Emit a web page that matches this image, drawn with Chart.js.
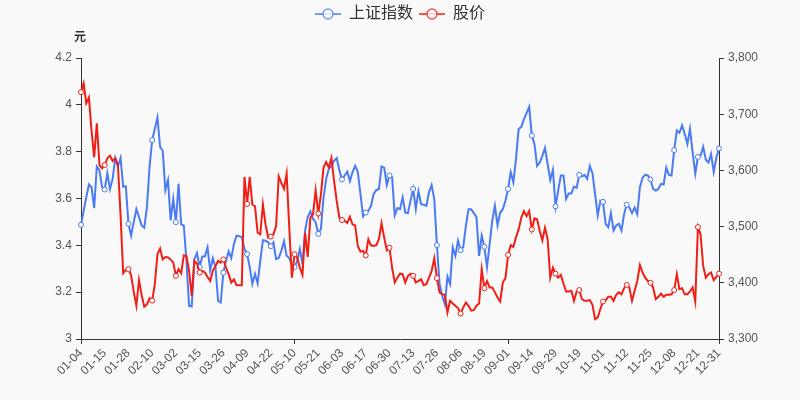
<!DOCTYPE html>
<html><head><meta charset="utf-8">
<script src="https://cdn.jsdelivr.net/npm/chart.js@4.4.1/dist/chart.umd.min.js"></script>
<style>html,body{margin:0;padding:0;background:#f9f9f9;}#wrap{width:800px;height:400px;}</style>
</head><body><div id="wrap"><canvas id="c" width="800" height="400"></canvas></div>
<script>
const dates = [
"01-04","01-05","01-06","01-07","01-08","01-11","01-12","01-13","01-14","01-15","01-18","01-19","01-20","01-21","01-22","01-25","01-26","01-27","01-28","01-29",
"02-01","02-02","02-03","02-04","02-05","02-08","02-09","02-10","02-18","02-19","02-22","02-23","02-24","02-25","02-26",
"03-01","03-02","03-03","03-04","03-05","03-08","03-09","03-10","03-11","03-12","03-15","03-16","03-17","03-18","03-19","03-22","03-23","03-24","03-25","03-26","03-29","03-30","03-31",
"04-01","04-02","04-06","04-07","04-08","04-09","04-12","04-13","04-14","04-15","04-16","04-19","04-20","04-21","04-22","04-23","04-26","04-27","04-28","04-29","04-30",
"05-06","05-07","05-10","05-11","05-12","05-13","05-14","05-17","05-18","05-19","05-20","05-21","05-24","05-25","05-26","05-27","05-28","05-31",
"06-01","06-02","06-03","06-04","06-07","06-08","06-09","06-10","06-11","06-15","06-16","06-17","06-18","06-21","06-22","06-23","06-24","06-25","06-28","06-29","06-30",
"07-01","07-02","07-05","07-06","07-07","07-08","07-09","07-12","07-13","07-14","07-15","07-16","07-19","07-20","07-21","07-22","07-23","07-26","07-27","07-28","07-29","07-30",
"08-02","08-03","08-04","08-05","08-06","08-09","08-10","08-11","08-12","08-13","08-16","08-17","08-18","08-19","08-20","08-23","08-24","08-25","08-26","08-27","08-30","08-31",
"09-01","09-02","09-03","09-06","09-07","09-08","09-09","09-10","09-13","09-14","09-15","09-16","09-17","09-22","09-23","09-24","09-27","09-28","09-29","09-30",
"10-08","10-11","10-12","10-13","10-14","10-15","10-18","10-19","10-20","10-21","10-22","10-25","10-26","10-27","10-28","10-29",
"11-01","11-02","11-03","11-04","11-05","11-08","11-09","11-10","11-11","11-12","11-15","11-16","11-17","11-18","11-19","11-22","11-23","11-24","11-25","11-26","11-29","11-30",
"12-01","12-02","12-03","12-06","12-07","12-08","12-09","12-10","12-13","12-14","12-15","12-16","12-17","12-20","12-21","12-22","12-23","12-24","12-27","12-28","12-29","12-30","12-31"
];
const indexValues = [
3503,3528,3552,3575,3570,3533,3607,3600,3570,3566,
3595,3567,3585,3622,3607,3622,3571,3572,3505,
3484,3508,3531,3517,3502,3498,3534,3606,3654,
3674,3694,3642,3635,3565,3583,3511,3549,3508,
3576,3504,3502,3439,3359,3358,3442,3453,3428,
3447,3447,3463,3422,3444,3428,3368,3365,3418,
3439,3456,3444,3469,3484,3483,3481,3460,3451,
3428,3398,3416,3399,3439,3476,3475,3472,3465,
3472,3442,3444,3457,3474,3448,3444,3431,3428,
3439,3460,3434,3493,3517,3527,3514,3508,3487,
3496,3552,3585,3603,3608,3617,3622,3600,3584,
3591,3598,3581,3597,3608,3597,3558,3518,3525,
3528,3537,3558,3565,3567,3607,3605,3574,3591,
3588,3520,3533,3531,3552,3525,3524,3546,3567,
3531,3563,3540,3539,3537,3561,3574,3549,3467,
3398,3377,3362,3411,3398,3463,3448,3475,3458,
3464,3502,3531,3531,3524,3517,3448,3484,3464,
3428,3469,3511,3537,3502,3525,3531,3546,3567,
3597,3579,3620,3674,3677,3691,3702,3713,3662,
3647,3608,3614,3626,3640,3611,3583,3601,3536,
3564,3591,3591,3549,3559,3559,3571,3569,3592,
3589,3592,3585,3608,3595,3558,3520,3546,3544,
3505,3499,3524,3493,3502,3505,3493,3522,3539,
3534,3524,3534,3522,3570,3587,3592,3591,3584,
3567,3564,3567,3576,3575,3605,3592,3591,3636,
3671,3667,3680,3665,3647,3674,3632,3594,3624,
3626,3642,3619,3614,3629,3597,3623,3639
];
const priceValues = [
4.054,4.092,4.007,4.032,3.89,3.776,3.921,3.743,3.729,3.743,
3.772,3.783,3.760,3.772,3.743,3.530,3.281,3.295,3.298,
3.273,3.202,3.142,3.252,3.188,3.138,3.148,3.174,3.164,
3.234,3.362,3.386,3.340,3.350,3.348,3.340,3.326,3.270,
3.298,3.281,3.357,3.355,3.291,3.184,3.333,3.322,3.284,
3.291,3.284,3.265,3.248,3.291,3.312,3.333,3.326,3.340,
3.305,3.277,3.241,3.255,3.230,3.230,3.230,3.692,3.577,
3.692,3.574,3.567,3.454,3.447,3.574,3.489,3.433,3.437,
3.447,3.482,3.695,3.667,3.641,3.706,3.475,3.262,3.362,
3.348,3.305,3.274,3.454,3.350,3.518,3.532,3.634,3.536,
3.617,3.733,3.756,3.733,3.773,3.674,3.589,3.518,3.508,
3.504,3.496,3.522,3.489,3.485,3.397,3.373,3.376,3.357,
3.426,3.400,3.397,3.401,3.426,3.494,3.433,3.379,3.390,
3.305,3.241,3.262,3.279,3.277,3.241,3.270,3.279,3.270,
3.241,3.248,3.255,3.230,3.234,3.262,3.291,3.345,3.260,
3.199,3.191,3.189,3.113,3.163,3.152,3.142,3.132,3.109,
3.135,3.156,3.142,3.121,3.123,3.142,3.152,3.298,3.217,
3.248,3.220,3.220,3.199,3.177,3.160,3.241,3.260,3.359,
3.401,3.393,3.435,3.468,3.518,3.546,3.525,3.546,3.468,
3.515,3.511,3.461,3.421,3.475,3.426,3.262,3.305,3.279,
3.262,3.274,3.237,3.203,3.203,3.206,3.163,3.203,3.209,
3.170,3.163,3.163,3.166,3.146,3.085,3.092,3.128,3.160,
3.166,3.180,3.180,3.163,3.189,3.199,3.191,3.217,3.231,
3.220,3.163,3.206,3.248,3.316,3.284,3.262,3.248,3.240,
3.220,3.170,3.180,3.194,3.180,3.189,3.189,3.191,3.209,
3.277,3.213,3.217,3.191,3.191,3.203,3.220,3.160,3.478,
3.447,3.312,3.262,3.277,3.284,3.251,3.265,3.279
];
const seriesNames = ["上证指数","股价"];
const leftTitle = "元";

const BLUE = "#4a7bf5", RED = "#f01f16";
const FONT = "'Liberation Sans','Noto Sans CJK SC',sans-serif";
const last = dates.length - 1;
const showTick = i => (i % 9 === 0 || i === last);

function makeIcon(color){
  const c = document.createElement('canvas'); c.width = 26; c.height = 14;
  const g = c.getContext('2d');
  g.globalAlpha = 0.75;
  g.strokeStyle = color; g.lineWidth = 2;
  g.beginPath(); g.moveTo(0,7); g.lineTo(26,7); g.stroke();
  g.lineWidth = 1.5;
  g.beginPath(); g.arc(13,7,5,0,Math.PI*2); g.fillStyle='#fff'; g.fill(); g.stroke();
  return c;
}
const icons = [makeIcon(BLUE), makeIcon(RED)];

const legendHeight = {
  id:'legendHeight',
  beforeInit(chart){
    const orig = chart.legend.fit;
    chart.legend.fit = function(){ orig.bind(chart.legend)(); this.height = 58; };
  }
};
const unitLabel = {
  id:'unitLabel',
  afterDraw(chart){
    const ctx = chart.ctx; ctx.save();
    ctx.font = "bold 12px " + FONT; ctx.fillStyle = '#333';
    ctx.textAlign = 'center'; ctx.textBaseline = 'middle';
    ctx.fillText(leftTitle, 80, 38); ctx.restore();
  }
};
const pointR = ctx => showTick(ctx.dataIndex) ? 2.5 : 0;

new Chart(document.getElementById('c'), {
  type:'line',
  data:{
    labels: dates,
    datasets:[
      {label:seriesNames[0], data:indexValues, yAxisID:'y1', borderColor:BLUE, backgroundColor:BLUE,
       borderWidth:2, tension:0, pointRadius:pointR, pointBackgroundColor:'#fff', pointBorderColor:BLUE, pointBorderWidth:1, order:2},
      {label:seriesNames[1], data:priceValues, yAxisID:'y', borderColor:RED, backgroundColor:RED,
       borderWidth:2, tension:0, pointRadius:pointR, pointBackgroundColor:'#fff', pointBorderColor:RED, pointBorderWidth:1, order:1}
    ]
  },
  options:{
    responsive:false, animation:false, devicePixelRatio:1,
    layout:{padding:{left:0,right:0,top:0,bottom:0}},
    plugins:{
      tooltip:{enabled:false},
      legend:{
        position:'top', align:'center',
        labels:{
          usePointStyle:true, pointStyleWidth:26, boxHeight:14, padding:6,
          color:'#333', font:{size:16, family:FONT},
          sort:(a,b)=>a.datasetIndex-b.datasetIndex,
          generateLabels(chart){
            const items = Chart.defaults.plugins.legend.labels.generateLabels(chart);
            items.forEach(it => { it.pointStyle = icons[it.datasetIndex]; });
            return items;
          }
        }
      }
    },
    scales:{
      x:{
        type:'category', offset:false,
        afterFit(s){ s.height = 61; },
        grid:{display:true, drawOnChartArea:false, drawTicks:true, tickLength:5,
              tickColor: c => showTick(c.index) ? '#333' : 'rgba(0,0,0,0)'},
        border:{display:true, color:'#333', width:1},
        ticks:{autoSkip:false, maxRotation:45, minRotation:45, padding:2, color:'#555',
               font:{size:12, family:FONT},
               callback(v, i){ return showTick(i) ? dates[i] : null; }}
      },
      y:{
        position:'left', min:3, max:4.2,
        afterFit(s){ s.width = 81; },
        grid:{display:true, drawOnChartArea:false, drawTicks:true, tickLength:5, tickColor:'#333'},
        border:{display:true, color:'#333', width:1},
        ticks:{stepSize:0.2, padding:4, color:'#555', font:{size:12, family:FONT},
               callback:v => String(Number(Number(v).toFixed(2)))}
      },
      y1:{
        position:'right', min:3300, max:3800,
        afterFit(s){ s.width = 81; },
        grid:{display:true, drawOnChartArea:false, drawTicks:true, tickLength:5, tickColor:'#333'},
        border:{display:true, color:'#333', width:1},
        ticks:{stepSize:100, padding:4, color:'#555', font:{size:12, family:FONT},
               callback:v => v.toLocaleString('en-US')}
      }
    }
  },
  plugins:[legendHeight, unitLabel]
});
</script>
</body></html>
